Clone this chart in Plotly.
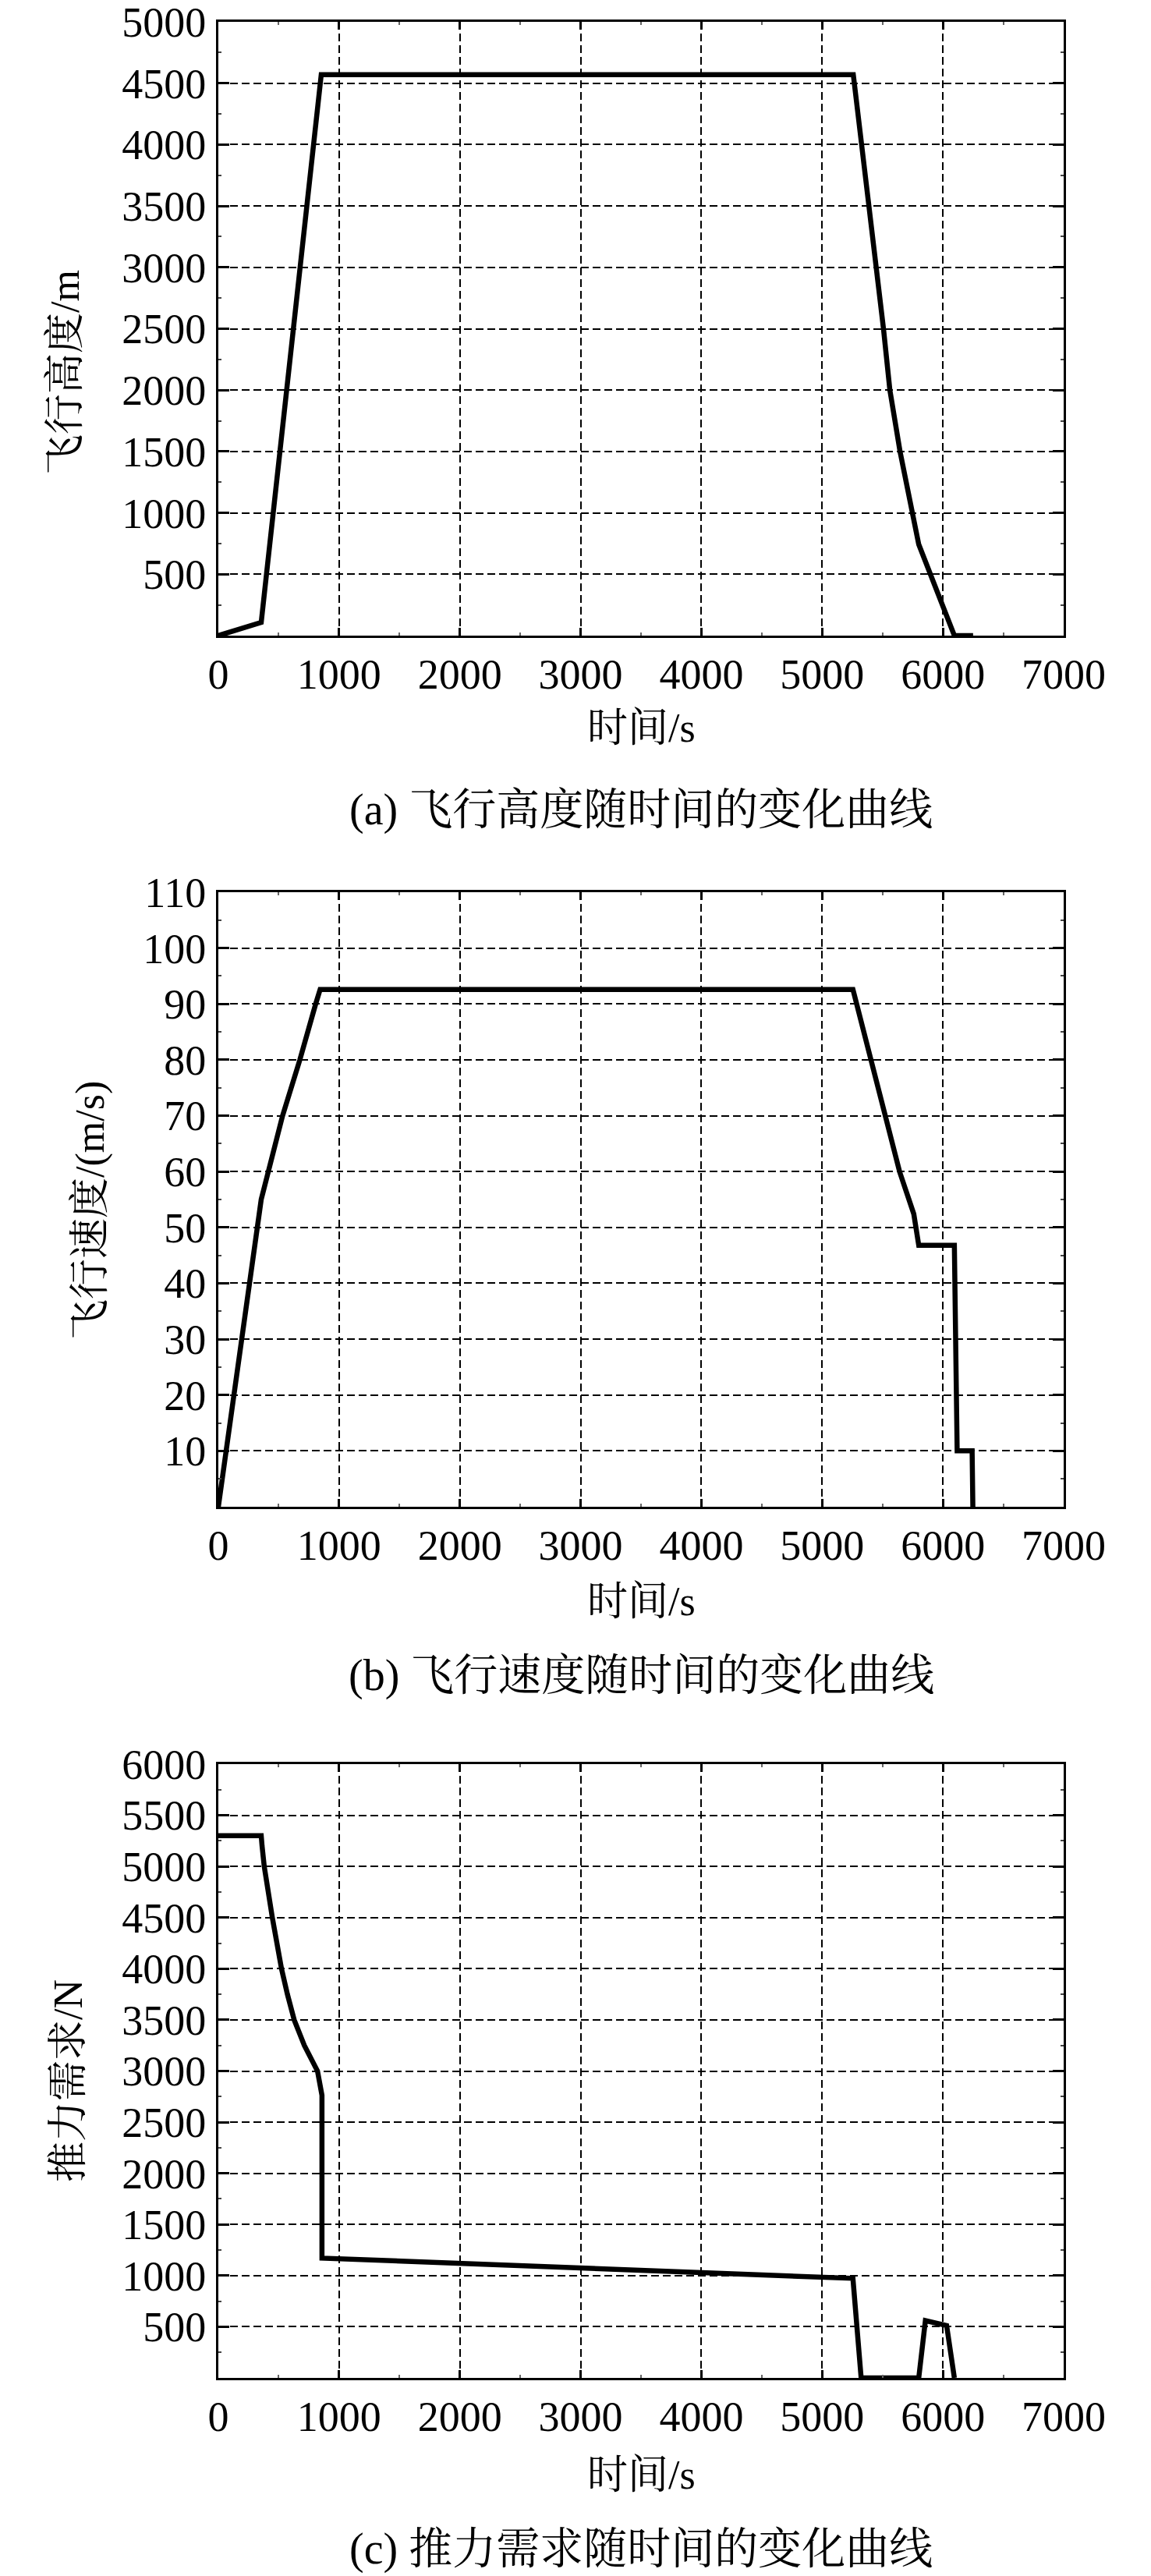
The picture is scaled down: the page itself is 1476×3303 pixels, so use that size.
import plotly.graph_objects as go

# ---------------- data ----------------
# (a) altitude vs time
t_alt = [0, 355, 852, 5258, 5508, 5561, 5645, 5742, 5800, 6095, 6250]
alt = [0, 108, 4570, 4570, 2500, 2000, 1500, 1000, 743, 0, 0]

# (b) speed vs time
t_spd = [0, 355, 532, 675, 806, 843, 5255, 5401, 5527, 5641, 5759, 5800, 6095, 6118, 6242, 6248]
spd = [0, 55, 70, 80, 90, 92.6, 92.6, 80, 70, 60, 52.4, 46.8, 46.8, 10, 10, 0]

# (c) thrust vs time
t_thr = [0, 355, 362, 380, 447, 523, 572, 628, 712, 821, 858, 858, 5255, 5323, 5800, 5855, 6031, 6095]
thr = [5300, 5300, 5200, 5000, 4500, 4000, 3750, 3500, 3250, 3000, 2763, 1171, 973, 0, 0, 560, 512, 0]

x_ticks = [0, 1000, 2000, 3000, 4000, 5000, 6000, 7000]
y1_ticks = [500, 1000, 1500, 2000, 2500, 3000, 3500, 4000, 4500, 5000]
y2_ticks = [10, 20, 30, 40, 50, 60, 70, 80, 90, 100, 110]
y3_ticks = [500, 1000, 1500, 2000, 2500, 3000, 3500, 4000, 4500, 5000, 5500, 6000]

x_title = "时间/s"
y_titles = ["飞行高度/m", "飞行速度/(m/s)", "推力需求/N"]
captions = ["(a) 飞行高度随时间的变化曲线", "(b) 飞行速度随时间的变化曲线", "(c) 推力需求随时间的变化曲线"]

# ---------------- layout geometry (pixels) ----------------
W, H = 1476, 3303
FONT = "Liberation Serif, 'Times New Roman', 'Noto Serif CJK SC', 'Noto Sans CJK SC', serif"
px_l, px_r = 280, 1364
panels = [(28, 815), (1144, 1932), (2262, 3049)]
ytitle_pos = [(84, 478), (116, 1552), (87, 2668)]
xtitle_y = [933, 2053, 3173]
caption_y = [1038, 2148, 3268]

def fx(p):
    return p / W

def fy(p):
    return 1 - p / H

fig = go.Figure()
series = [(t_alt, alt), (t_spd, spd), (t_thr, thr)]
for i, (tx, ty) in enumerate(series):
    sfx = "" if i == 0 else str(i + 1)
    fig.add_trace(go.Scatter(x=tx, y=ty, mode="lines",
                             line=dict(color="black", width=6.5),
                             xaxis="x" + sfx, yaxis="y" + sfx,
                             showlegend=False, cliponaxis=False))

yranges = [[0, 5000], [0, 110], [0, 6000]]
yticks = [y1_ticks, y2_ticks, y3_ticks]
yminor = [250, 5, 250]

axis_common = dict(showline=True, linecolor="black", linewidth=3, mirror="ticks",
                   ticks="inside", tickcolor="black", tickwidth=3, automargin=False,
                   ticklabeloverflow="allow",
                   showgrid=True, gridcolor="black", gridwidth=1.8, griddash="10px,5px",
                   zeroline=False, tickfont=dict(family=FONT, size=54, color="black"))

layout = dict(width=W, height=H, autosize=False, margin=dict(l=0, r=0, t=0, b=0, pad=0),
              paper_bgcolor="white", plot_bgcolor="white", showlegend=False,
              font=dict(family=FONT, color="black"))

annotations = []
for i, (top, bot) in enumerate(panels):
    sfx = "" if i == 0 else str(i + 1)
    layout["xaxis" + sfx] = dict(axis_common, domain=[fx(px_l), fx(px_r)], range=[0, 7000],
                                 tickvals=x_ticks, ticklen=10, anchor="y" + sfx,
                                 ticklabelstandoff=0,
                                 minor=dict(ticks="inside", dtick=500, tick0=0, ticklen=4,
                                            tickwidth=2, tickcolor="#666", showgrid=False))
    layout["yaxis" + sfx] = dict(axis_common, domain=[fy(bot), fy(top)], range=yranges[i],
                                 tickvals=yticks[i], ticklen=14, anchor="x" + sfx,
                                 ticklabelstandoff=2,
                                 minor=dict(ticks="inside", dtick=yminor[i], tick0=0, ticklen=4,
                                            tickwidth=2, tickcolor="#444", showgrid=False))
    annotations.append(dict(text=y_titles[i], xref="paper", yref="paper",
                            x=fx(ytitle_pos[i][0]), y=fy(ytitle_pos[i][1]),
                            xanchor="center", yanchor="middle", textangle=-90, showarrow=False,
                            font=dict(family=FONT, size=52, color="black")))
    annotations.append(dict(text=x_title, xref="paper", yref="paper",
                            x=fx((px_l + px_r) / 2), y=fy(xtitle_y[i]),
                            xanchor="center", yanchor="middle", showarrow=False,
                            font=dict(family=FONT, size=52, color="black")))
    annotations.append(dict(text=captions[i], xref="paper", yref="paper",
                            x=fx((px_l + px_r) / 2), y=fy(caption_y[i]),
                            xanchor="center", yanchor="middle", showarrow=False,
                            font=dict(family=FONT, size=56, color="black")))

layout["annotations"] = annotations
fig.update_layout(**layout)
fig.write_html("out.html", config={"displayModeBar": False},
               post_script="document.body.style.margin='0px';")
